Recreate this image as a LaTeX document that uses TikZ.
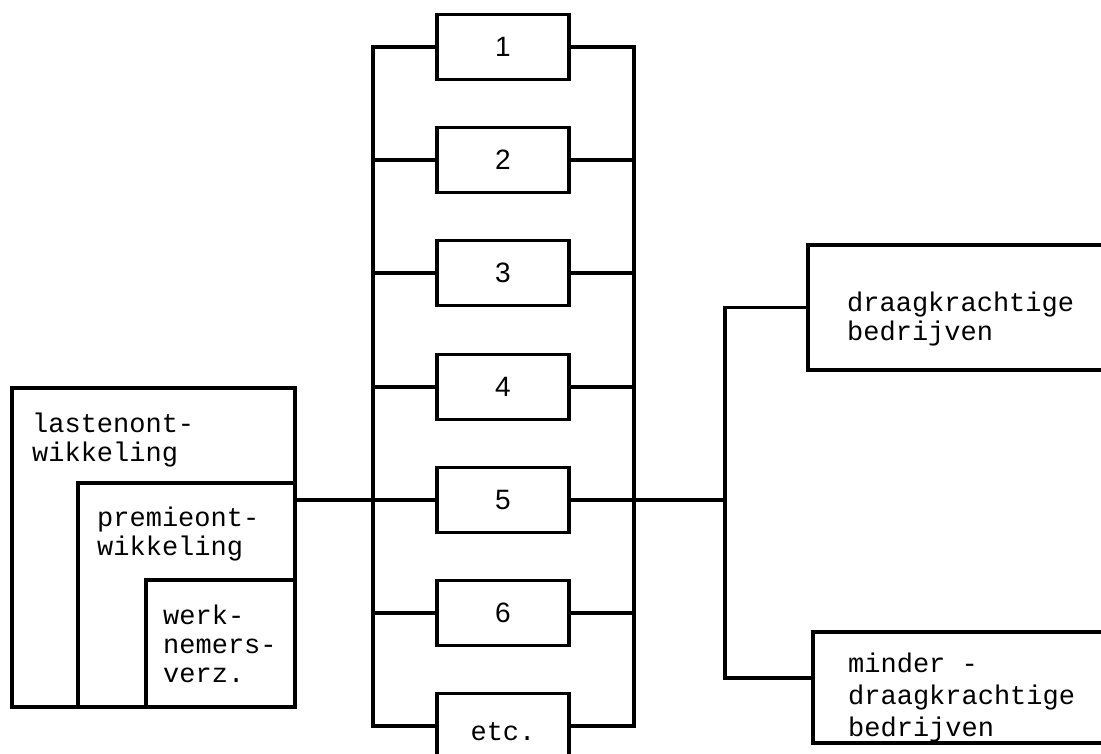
\documentclass[tikz,border=0pt]{standalone}
\usepackage{fontspec}
\setmonofont{Liberation Mono}
\newfontfamily\digitfont{Liberation Sans}
\begin{document}
\begin{tikzpicture}[x=1pt,y=-1pt,
  conn/.style={draw,line width=3.3pt},
  numbox/.style={draw,line width=3.3pt,minimum width=132pt,minimum height=65pt,inner sep=0pt,
    font=\digitfont\fontsize{28}{29}\selectfont},
  plainbox/.style={draw,line width=3.3pt,inner sep=0pt},
  lbl/.style={anchor=north west,inner sep=0pt,align=left,
    font=\ttfamily\fontsize{27}{29}\selectfont}]
\clip (0,0) rectangle (1101,753);
\fill[white] (0,0) rectangle (1101,753);
% central column
\node[numbox] (b1) at (503,47) {1};
\node[numbox] (b2) at (503,160) {2};
\node[numbox] (b3) at (503,273) {3};
\node[numbox] (b4) at (503,387) {4};
\node[numbox] (b5) at (503,500) {5};
\node[numbox] (b6) at (503,613) {6};
\node[numbox,font=\ttfamily\fontsize{27}{29}\selectfont,text height=28pt,text depth=0pt] (be) at (503,726) {etc.};
\coordinate (lt) at (373,47);
\coordinate (lb) at (373,726);
\coordinate (rt) at (634,47);
\coordinate (rb) at (634,726);
\draw[conn] (b1.west) -- (lt) -- (lb) -- (be.west);
\draw[conn] (b1.east) -- (rt) -- (rb) -- (be.east);
\foreach \n in {b2,b3,b4,b5,b6}{
  \draw[conn] (\n.west) -- (\n.west -| lt);
  \draw[conn] (\n.east) -- (\n.east -| rt);
}
% left nested boxes
\node[plainbox,minimum width=283pt,minimum height=319pt] (outer) at (153.5,547.5) {};
\node[plainbox,minimum width=217pt,minimum height=224pt] (middle) at (186.5,595) {};
\node[plainbox,minimum width=149pt,minimum height=127pt] (inner) at (220.5,643.5) {};
\node[lbl] (t1) at (32,413) {lastenont-\\wikkeling};
\node[lbl] (t2) at (97,507) {premieont-\\wikkeling};
\node[lbl] (t3) at (163,605) {werk-\\nemers-\\verz.};
\draw[conn] (outer.east |- b5) -- (b5.west -| lt);
% right side
\node[plainbox,minimum width=322pt,minimum height=125pt] (top) at (969,307.5) {};
\node[plainbox,minimum width=317pt,minimum height=111pt] (bot) at (971.5,687.5) {};
\node[lbl] (t4) at (847,292) {draagkrachtige\\bedrijven};
\node[lbl,font=\ttfamily\fontsize{27}{32}\selectfont] (t5) at (848,653) {minder -\\draagkrachtige\\bedrijven};
\coordinate (bb) at (725,678);
\draw[conn] (b5.east -| rt) -- (b5.east -| bb);
\draw[conn,line width=3.8pt] (top.west) -| (bb) -- (bb -| bot.west);
\end{tikzpicture}
\end{document}
